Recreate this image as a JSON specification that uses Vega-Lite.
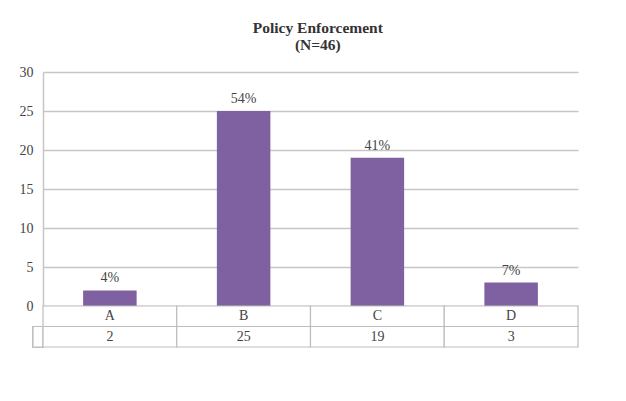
{
  "$schema": "https://vega.github.io/schema/vega-lite/v6.json",
  "background": "white",
  "padding": {"left": 19, "top": 20, "right": 5, "bottom": 5},
  "title": {
    "text": ["Policy Enforcement", "(N=46)"],
    "font": "Liberation Serif",
    "fontSize": 15.5,
    "fontWeight": "bold",
    "color": "#333333",
    "lineHeight": 17,
    "offset": 12,
    "anchor": "middle",
    "dx": 19
  },
  "data": {
    "values": [
      {"cat": "A", "n": 2, "pct": "4%"},
      {"cat": "B", "n": 25, "pct": "54%"},
      {"cat": "C", "n": 19, "pct": "41%"},
      {"cat": "D", "n": 3, "pct": "7%"}
    ]
  },
  "spacing": 0,
  "bounds": "flush",
  "vconcat": [
    {
      "width": 535,
      "height": 234,
      "encoding": {
        "x": {"field": "cat", "type": "nominal", "scale": {"paddingInner": 0.6, "paddingOuter": 0.3}, "axis": null},
        "y": {
          "field": "n",
          "type": "quantitative",
          "scale": {"domain": [0, 30], "nice": false},
          "axis": {
            "values": [0, 5, 10, 15, 20, 25, 30],
            "title": null,
            "grid": true,
            "gridColor": "#c6c6c6",
            "gridWidth": 1.5,
            "domain": true,
            "domainColor": "#c6c6c6",
            "domainWidth": 1.5,
            "ticks": false,
            "labelFont": "Liberation Serif",
            "labelFontSize": 14,
            "labelColor": "#444444",
            "labelPadding": 10
          }
        }
      },
      "layer": [
        {"mark": {"type": "bar", "color": "#7F60A1"}},
        {
          "mark": {"type": "text", "baseline": "bottom", "dy": -5, "font": "Liberation Serif", "fontSize": 14, "color": "#444444"},
          "encoding": {"text": {"field": "pct"}}
        }
      ]
    },
    {
      "width": 535,
      "height": 41,
      "encoding": {
        "x": {"field": "cat", "type": "nominal", "scale": {"paddingInner": 0, "paddingOuter": 0}, "axis": null}
      },
      "layer": [
        {
          "mark": {"type": "rect", "fill": "white", "stroke": "#bdbdbd", "strokeWidth": 1.2, "xOffset": -10},
          "encoding": {
            "x": {"datum": "A", "type": "nominal", "bandPosition": 0},
            "x2": {"datum": "A", "bandPosition": 0},
            "y": {"datum": "cnt", "type": "nominal", "scale": {"domain": ["hdr", "cnt"], "paddingInner": 0, "paddingOuter": 0}, "axis": null}
          }
        },
        {
          "mark": {"type": "rect", "fill": "white", "stroke": "#bdbdbd", "strokeWidth": 1.2},
          "encoding": {"y": {"datum": "hdr", "type": "nominal"}}
        },
        {
          "mark": {"type": "rect", "fill": "white", "stroke": "#bdbdbd", "strokeWidth": 1.2},
          "encoding": {"y": {"datum": "cnt", "type": "nominal"}}
        },
        {
          "mark": {"type": "text", "font": "Liberation Serif", "fontSize": 14, "color": "#444444"},
          "encoding": {"y": {"datum": "hdr", "type": "nominal"}, "text": {"field": "cat"}}
        },
        {
          "mark": {"type": "text", "font": "Liberation Serif", "fontSize": 14, "color": "#444444"},
          "encoding": {"y": {"datum": "cnt", "type": "nominal"}, "text": {"field": "n"}}
        }
      ]
    }
  ],
  "config": {"view": {"stroke": null}}
}
